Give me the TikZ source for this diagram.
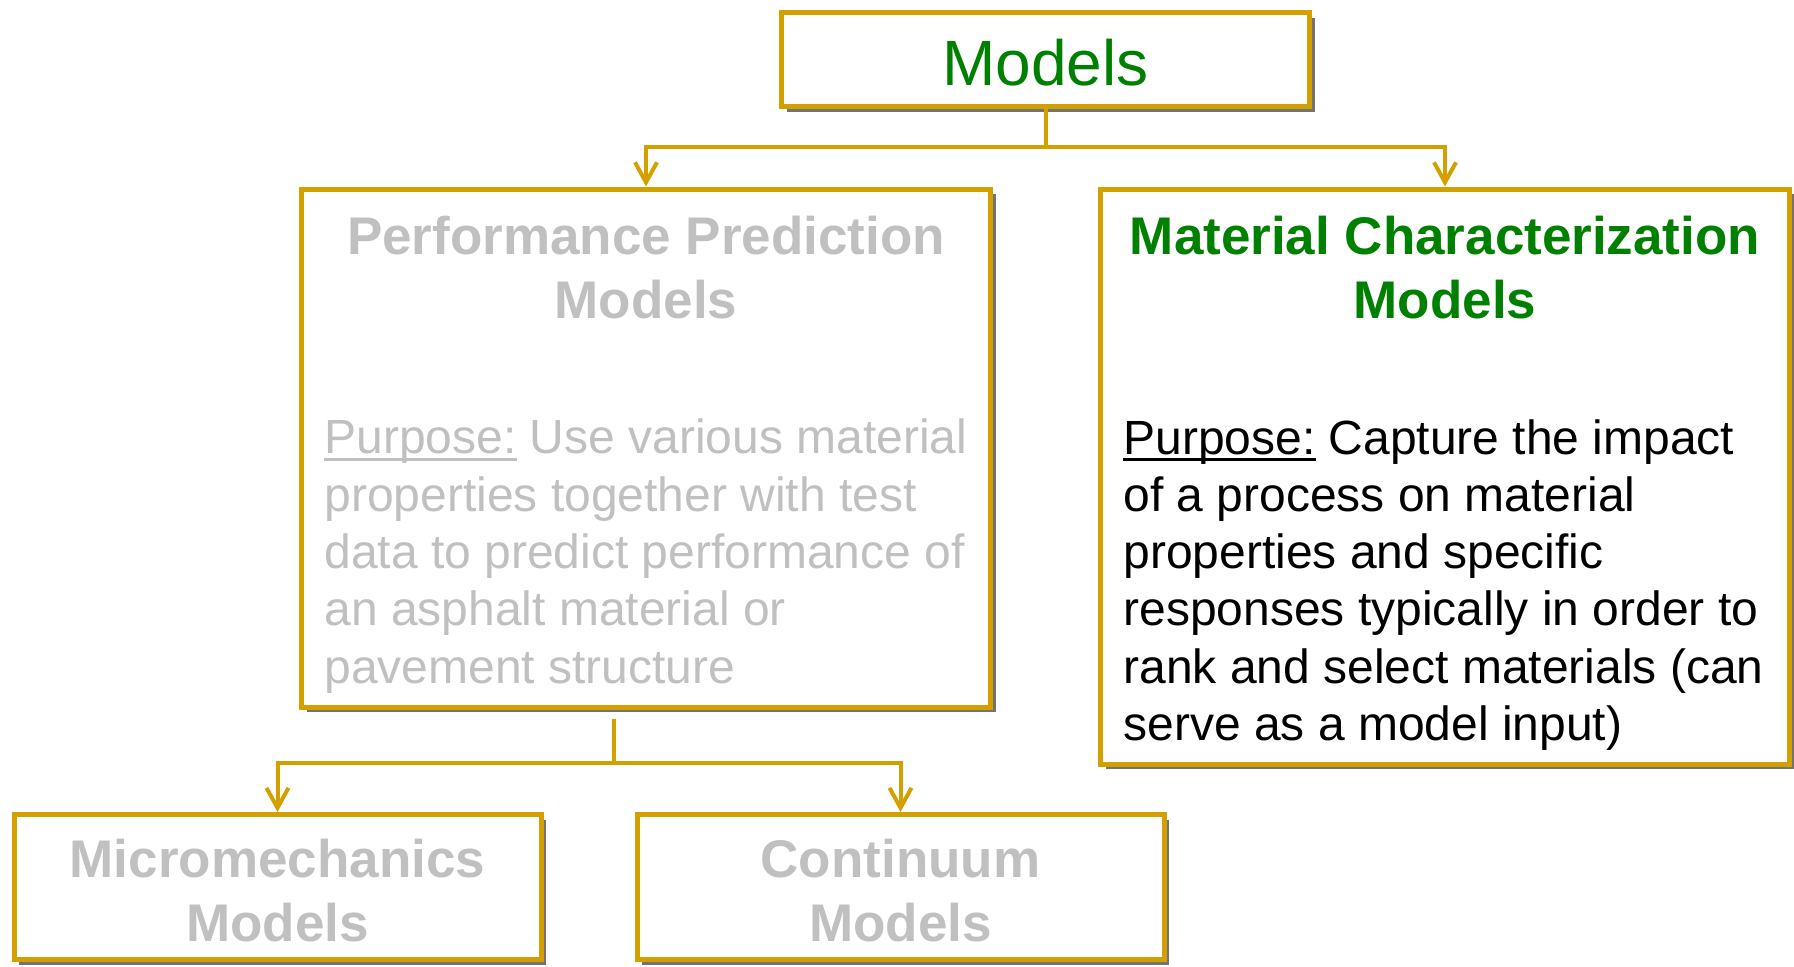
\documentclass[tikz,border=0pt]{standalone}
\usepackage{fontspec}
\setmainfont{Liberation Sans}
\usetikzlibrary{calc}
\usetikzlibrary{arrows.meta}
\usetikzlibrary{shadows}

\definecolor{boxgold}{RGB}{212,160,0}
\definecolor{titlegreen}{RGB}{0,128,0}
\definecolor{fadegray}{RGB}{192,192,192}

\newcommand\purpline[1]{\setbox0\hbox{#1}\rlap{\rule[-3.7pt]{\wd0}{1.5pt}}\box0}

\begin{document}
\begin{tikzpicture} [x=.5pt, y=-.5pt,
  box/.style={draw=boxgold, line width=2.5pt, fill=white, inner sep=0pt,
    general shadow={fill=black!55, shadow xshift=2.5pt, shadow yshift=-2.5pt}},
  word/.style={font=\fontsize{26.5}{32}\selectfont\bfseries, align=center},
  head/.style={word, inner sep=0pt, anchor=base},
  body/.style={font=\fontsize{24}{28.65}\selectfont, align=left, inner sep=0pt, anchor=base west},
  link/.style={boxgold, line width=2pt},
  >={Straight Barb[length=10pt,width=11pt]}]
\useasboundingbox (0,0) rectangle (1794,966);

\node[box, minimum width=264pt, minimum height=47pt, text=titlegreen,
  font=\fontsize{32}{38}\selectfont] (models) at (1045.5,59.5) {\rule{0pt}{26.5pt}Models};

\node[box, minimum width=344.5pt, minimum height=259pt] (ppm) at (646,448) {};
\node[box, minimum width=344.5pt, minimum height=287.5pt] (mcm) at (1445,476.5) {};

% base anchor sits on the last line
\node[head, text=fadegray] (ppmhead) at (646,318) {Performance Prediction\\Models};
\node[body, text=fadegray] (ppmbody) at (324,683) {\purpline{Purpose:}\ Use various material\\
  properties together with test\\data to predict performance of\\an asphalt material or\\pavement structure};

\node[head, text=titlegreen] (mcmhead) at (1445,318) {Material Characterization\\Models};
\node[body] (mcmbody) at (1123,740.5) {\purpline{Purpose:}\ Capture the impact\\
  of a process on material\\properties and specific\\responses typically in order to\\
  rank and select materials (can\\serve as a model input)};

\coordinate (split) at (1045.5,147);
\draw[link] (models.south) -- (split);
\draw[link, ->] (split) -| (ppm.north);
\draw[link, ->] (split) -| (mcm.north);

\coordinate (fork) at (614,763);
\draw[link] ($(fork |- ppm.south)+(0,9)$) -- (fork);
\foreach \name/\x/\word in {micro/277.5/Micromechanics, cont/900.5/Continuum} {
  \node[box, word, text=fadegray, minimum width=263.5pt, minimum height=72.5pt] (\name) at (\x,887) {\rule{0pt}{23pt}\word\\Models};
  \draw[link, ->] (fork) -| (\name.north);
}
\end{tikzpicture}
\end{document}
